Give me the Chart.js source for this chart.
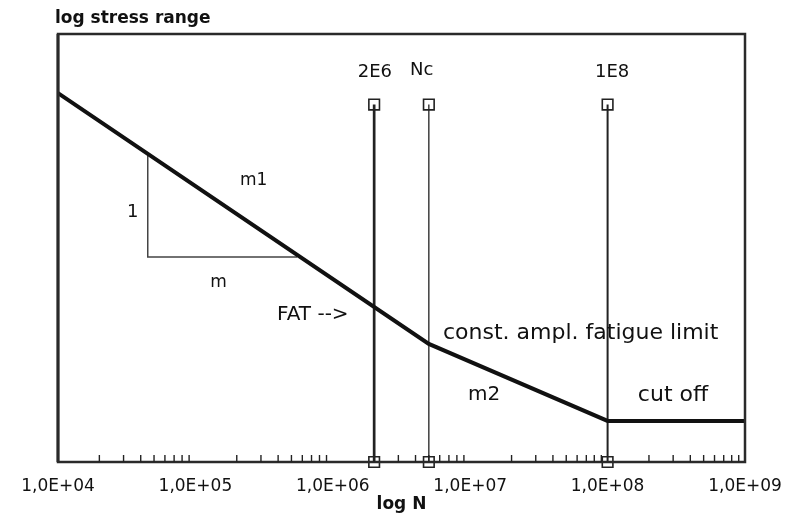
<!DOCTYPE html>
<html>
<head>
<meta charset="utf-8">
<script src="https://cdn.jsdelivr.net/npm/chart.js@4.4.1/dist/chart.umd.min.js"></script>
<style>
html,body{margin:0;padding:0;background:#fff}
#c{display:block}
</style>
</head>
<body>
<canvas id="c" width="789" height="516"></canvas>
<script>
// S-N curve (log N vs log stress range, stress in arbitrary units 0..100)
var curveN=[1e4,5e6,1e8,1e9];
var curveS=[86.2,27.6,9.6,9.6];

// vertical marker lines
var markN=[2e6,5e6,1e8];
var markNames=["2E6","Nc","1E8"];
var markTop=[83.5,83.5,83.5];
var markBottom=[0,0,0];
var markWidth=[2.7,1.3,2];

// slope triangle
var triN=[4.5e4,4.5e4,5.5e5];
var triS=[72.0,47.9,47.9];

// axis ticks
var decades=[1e4,1e5,1e6,1e7,1e8,1e9];

// text notes inside the plot
var noteText=["m1","1","m","FAT -->","const. ampl. fatigue limit","m2","cut off","2E6","Nc","1E8"];
var noteN=[2.11e5,3.18e4,1.28e5,3.93e5,6.34e6,9.64e6,1.66e8,1.52e6,3.65e6,8.09e7];
var noteS=[64.7,57.2,40.9,33.2,28.7,14.5,14.3,90.0,90.4,90.0];
var noteSize=[17,18,17,20,22,20,22,18,18,18];

var FONT="'DejaVu Sans', sans-serif";

var datasets=[];
datasets.push({
  data:curveN.map(function(n,i){return {x:n,y:curveS[i]}}),
  borderColor:"#111",borderWidth:4,pointRadius:0,tension:0,borderJoinStyle:"miter"
});
datasets.push({
  data:triN.map(function(n,i){return {x:n,y:triS[i]}}),
  borderColor:"#444",borderWidth:1.5,pointRadius:0,tension:0
});
for(var i=0;i<markN.length;i++){
  datasets.push({
    data:[{x:markN[i],y:markBottom[i]},{x:markN[i],y:markTop[i]}],
    borderColor:"#222",borderWidth:markWidth[i],
    pointStyle:"rect",pointRadius:7.5,pointHoverRadius:7.5,
    pointBackgroundColor:"rgba(0,0,0,0)",pointBorderColor:"#222",pointBorderWidth:1.6,
    clip:false
  });
}

var framePlugin={
  id:"frame",
  afterDatasetsDraw:function(chart){
    var ctx=chart.ctx,a=chart.chartArea,xs=chart.scales.x,ys=chart.scales.y;
    ctx.save();
    // plot frame
    ctx.strokeStyle="#2a2a2a";
    ctx.lineWidth=2.5;
    ctx.strokeRect(a.left,a.top,a.right-a.left,a.bottom-a.top);
    ctx.lineWidth=3;
    ctx.beginPath();ctx.moveTo(a.left,a.top);ctx.lineTo(a.left,a.bottom);ctx.stroke();
    // minor ticks pointing inward
    ctx.lineWidth=1.4;
    ctx.strokeStyle="#222";
    for(var d=0;d<decades.length-1;d++){
      for(var k=2;k<=9;k++){
        var px=xs.getPixelForValue(decades[d]*k);
        ctx.beginPath();ctx.moveTo(px,a.bottom);ctx.lineTo(px,a.bottom-7);ctx.stroke();
      }
    }
    // notes
    ctx.fillStyle="#111";
    ctx.textAlign="left";
    ctx.textBaseline="alphabetic";
    for(var j=0;j<noteText.length;j++){
      ctx.font=noteSize[j]+"px "+FONT;
      ctx.fillText(noteText[j],xs.getPixelForValue(noteN[j]),ys.getPixelForValue(noteS[j]));
    }
    // y axis label
    ctx.font="bold 17px "+FONT;
    ctx.fillText("log stress range",a.left-3,a.top-11);
    ctx.restore();
  }
};

new Chart(document.getElementById("c"),{
  type:"line",
  data:{datasets:datasets},
  options:{
    responsive:false,animation:false,
    layout:{padding:{left:58,right:44,top:34,bottom:0}},
    plugins:{legend:{display:false},tooltip:{enabled:false},title:{display:false}},
    scales:{
      x:{
        type:"logarithmic",min:1e4,max:1e9,
        afterBuildTicks:function(s){s.ticks=decades.map(function(v){return {value:v}})},
        afterFit:function(s){s.height=54;s.paddingLeft=0;s.paddingRight=0},
        grid:{display:false,drawTicks:false},
        border:{display:false},
        ticks:{
          color:"#111",padding:14,maxRotation:0,autoSkip:false,
          font:{family:FONT,size:17},
          callback:function(v){var e=Math.round(Math.log10(v));return "1,0E+"+(e<10?"0":"")+e}
        },
        title:{display:true,text:"log N",color:"#111",font:{family:FONT,size:17,weight:"bold"},padding:{top:1,bottom:1}}
      },
      y:{type:"linear",min:0,max:100,display:false}
    }
  },
  plugins:[framePlugin]
});
</script>
</body>
</html>
